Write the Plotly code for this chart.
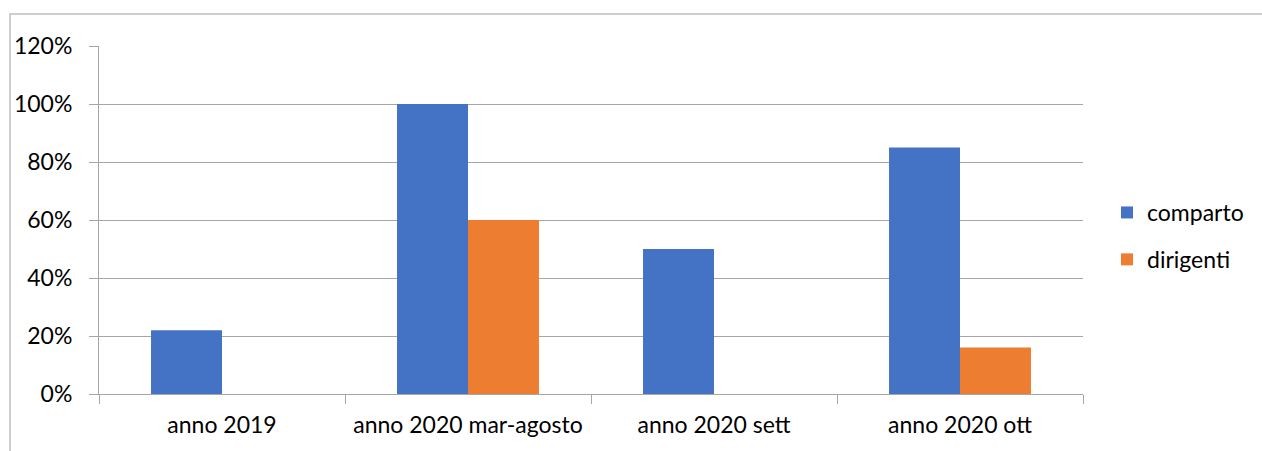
import plotly.graph_objects as go

categories = ["anno 2019", "anno 2020 mar-agosto", "anno 2020 sett", "anno 2020 ott"]
comparto = [0.22, 1.00, 0.50, 0.85]
dirigenti = [0.0, 0.60, 0.0, 0.16]
y_ticks = [0, 0.2, 0.4, 0.6, 0.8, 1.0, 1.2]
y_labels = ["0%", "20%", "40%", "60%", "80%", "100%", "120%"]

FONT = "Lato"
fig = go.Figure()
fig.add_trace(go.Bar(name="comparto", x=categories, y=comparto, marker_color="#4472C4",
                     marker_line_width=0, legendgroup="a"))
fig.add_trace(go.Bar(name="dirigenti", x=categories, y=dirigenti, marker_color="#ED7D31",
                     marker_line_width=0, legendgroup="b"))

fig.update_layout(
    width=1262, height=451,
    margin=dict(l=99, r=179, t=46, b=57, autoexpand=False),
    paper_bgcolor="white", plot_bgcolor="white",
    barmode="group", bargap=0.423, bargroupgap=0,
    font=dict(family=FONT, size=23, color="#000000"),
    legend=dict(x=1.0244, y=0.454, xanchor="left", yanchor="middle",
                font=dict(size=23), tracegroupgap=14, itemwidth=30,
                traceorder="grouped"),
    showlegend=True,
)
fig.update_xaxes(
    showline=True, linecolor="#a6a6a6", linewidth=1,
    ticks="outside", ticklen=9, tickcolor="#a6a6a6", tickson="boundaries",
    showgrid=False, tickfont=dict(size=23), ticklabelstandoff=10,
    tickangle=0, automargin=False,
)
fig.update_yaxes(
    range=[0, 1.2], tickvals=y_ticks, ticktext=y_labels,
    showline=True, linecolor="#a6a6a6", linewidth=1,
    ticks="outside", ticklen=9, tickcolor="#a6a6a6",
    showgrid=True, gridcolor="#a6a6a6", gridwidth=1,
    zeroline=False, tickfont=dict(size=23), ticklabelstandoff=12,
    automargin=False,
)
# outer chart border (partially cropped)
fig.add_shape(type="rect", xref="paper", yref="paper",
              x0=(10 - 99) / 984, x1=1.5, y0=-0.5, y1=(394 - 14) / 348,
              line=dict(color="#bfbfbf", width=1.5), fillcolor="rgba(0,0,0,0)", layer="below")

fig.write_html("out.html")
